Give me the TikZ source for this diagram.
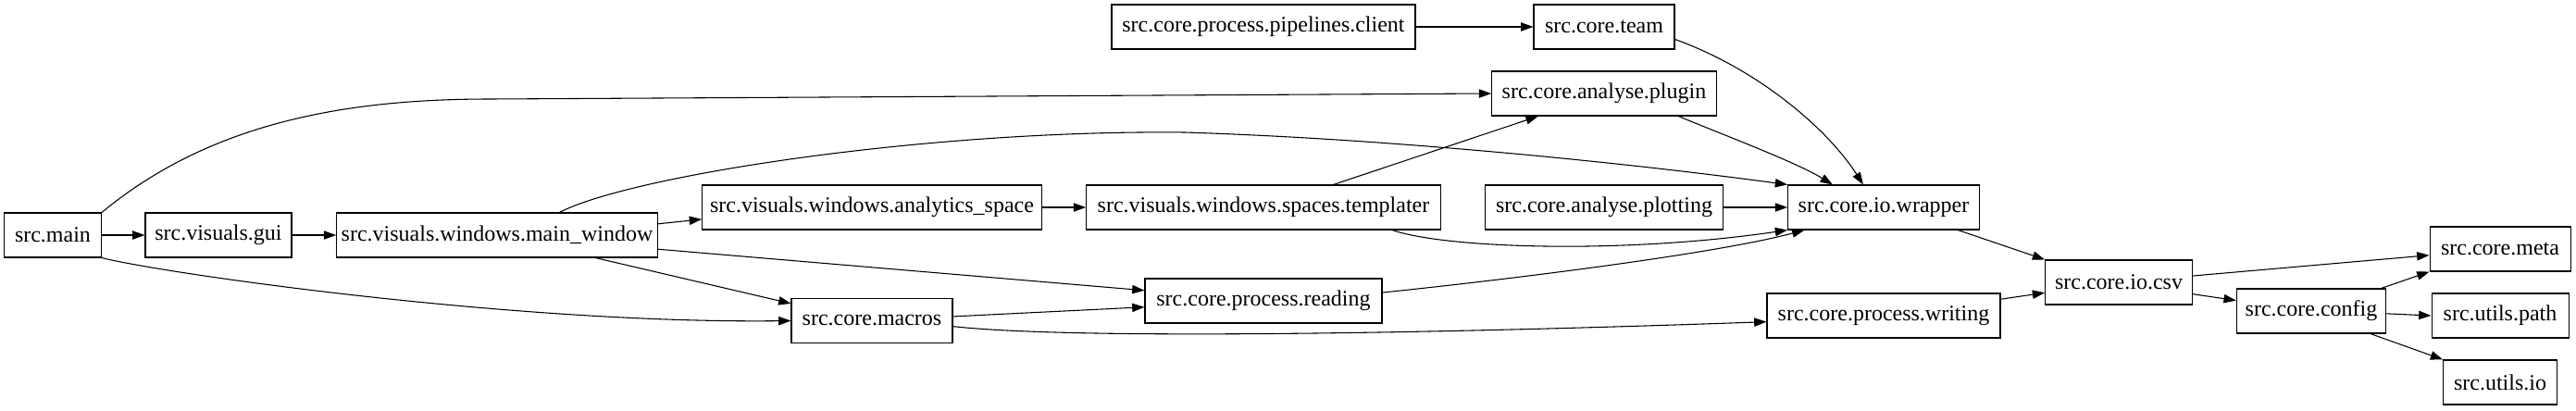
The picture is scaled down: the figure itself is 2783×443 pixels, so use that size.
\documentclass[tikz,border=0pt]{standalone}
\usepackage{fontspec}
\setmainfont{Liberation Serif}
\usetikzlibrary{arrows.meta}

\begin{document}
\begin{tikzpicture}[
  x=0.75pt, y=-0.75pt,
  mod/.style={rectangle, draw=black, line width=0.8pt, fill=white, text centered, inner sep=0pt, minimum height=36pt, font=\fontsize{18}{20}\selectfont},
  dep/.style={draw=black, line width=0.8pt, -{Triangle[length=10pt, width=7pt]}}
]
  \useasboundingbox (0,0) rectangle (2783,443);

  % ==================== MODULES ====================
  \node[mod, minimum width=78.75pt] (main) at (57,254) {src.main};
  \node[mod, minimum width=118.5pt] (gui) at (236,254) {src.visuals.gui};
  \node[mod, minimum width=260pt] (mainwin) at (537,254) {src.visuals.windows.main\_window};
  \node[mod, minimum width=275pt] (analytics) at (942,224) {src.visuals.windows.analytics\_space};
  \node[mod, minimum width=130.5pt] (macros) at (942,346.5) {src.core.macros};

  \node[mod, minimum width=246pt] (client) at (1365,29) {src.core.process.pipelines.client};
  \node[mod, minimum width=287pt] (templater) at (1365,224) {src.visuals.windows.spaces.templater};
  \node[mod, minimum width=192pt] (reading) at (1365,325) {src.core.process.reading};

  \node[mod, minimum width=114pt] (team) at (1733,29) {src.core.team};
  \node[mod, minimum width=182pt] (plugin) at (1733,101) {src.core.analyse.plugin};
  \node[mod, minimum width=193pt] (plotting) at (1733,224) {src.core.analyse.plotting};

  \node[mod, minimum width=155pt] (wrapper) at (2035,224) {src.core.io.wrapper};
  \node[mod, minimum width=189pt] (writing) at (2035,341) {src.core.process.writing};
  \node[mod, minimum width=119pt] (csv) at (2289,305) {src.core.io.csv};
  \node[mod, minimum width=121pt] (config) at (2497,336) {src.core.config};

  \node[mod, minimum width=114pt] (meta) at (2701,269) {src.core.meta};
  \node[mod, minimum width=111pt] (path) at (2701,341) {src.utils.path};
  \node[mod, minimum width=92pt] (uio) at (2701,413) {src.utils.io};

  % ==================== IMPORTS ====================
  % entry point
  \draw[dep] (main) -- (gui);
  \draw[dep] (main.north east) .. controls (230,130) and (380,107) .. (530,107) -- (plugin.west);
  \draw[dep] (main.south east) .. controls (180,296) and (560,350) .. (macros.west);
  \draw[dep] (gui) -- (mainwin);

  % main window
  \draw[dep] (mainwin.4) -- (analytics.184);
  \draw[dep] (mainwin.20) .. controls (680,190) and (1000,140) .. (1280,143)
    .. controls (1500,150) and (1750,175) .. (wrapper.north west);
  \draw[dep] (mainwin.-5) -- (reading.175);
  \draw[dep] (mainwin.-13) -- (macros.168);

  % spaces
  \draw[dep] (analytics) -- (templater);
  \draw[dep] (templater.18) -- (plugin.199);
  \draw[dep] (templater.-10) .. controls (1560,268) and (1750,275) .. (wrapper.south west);

  % core
  \draw[dep] (client) -- (team);
  \draw[dep] (team.-10) .. controls (1900,75) and (1975,140) .. (wrapper.132);
  \draw[dep] (plugin.-17) .. controls (1860,145) and (1940,175) .. (wrapper.156);
  \draw[dep] (plotting) -- (wrapper);
  \draw[dep] (reading.4) .. controls (1620,303) and (1850,275) .. (wrapper.196);
  \draw[dep] (macros.3) -- (reading.183);
  \draw[dep] (macros.-4) .. controls (1150,366) and (1500,362) .. (writing.183);

  % io
  \draw[dep] (wrapper.-17) -- (csv.north west);
  \draw[dep] (writing.8) -- (csv.188);
  \draw[dep] (csv.5) -- (meta.185);
  \draw[dep] (csv.-9) -- (config.172);

  % config
  \draw[dep] (config.18) -- (meta.south west);
  \draw[dep] (config.-2) -- (path.west);
  \draw[dep] (config.-21) -- (uio.north west);

\end{tikzpicture}
\end{document}
